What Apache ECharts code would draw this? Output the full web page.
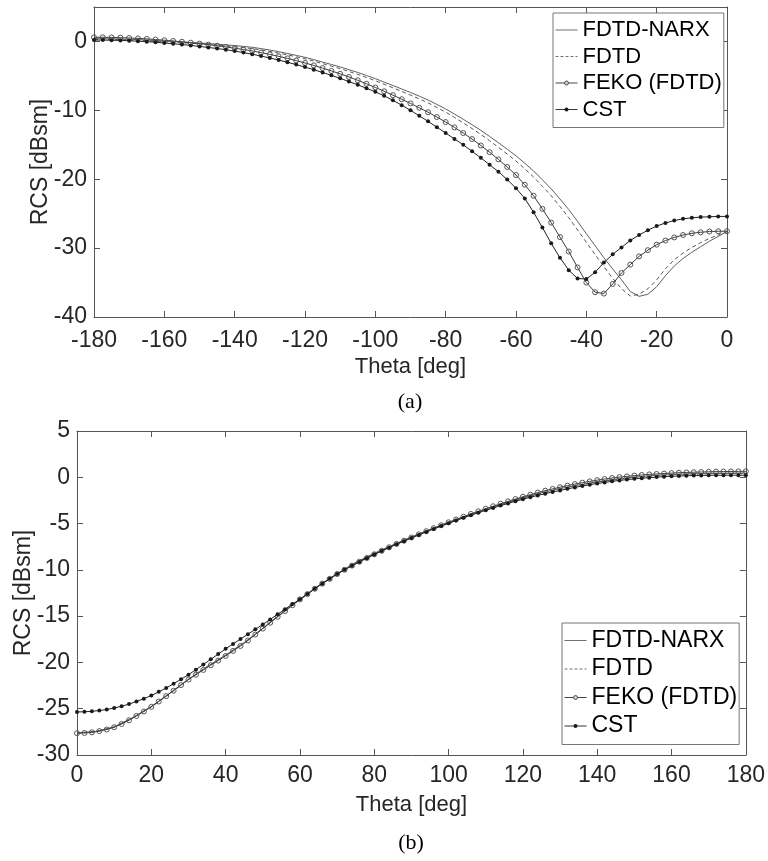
<!DOCTYPE html>
<html lang="en">
<head>
<meta charset="UTF-8">
<title>RCS</title>
<style>
body{margin:0;padding:0;background:#fff;}
#main{width:768px;height:861px;}
</style>
</head>
<body>
<div id="main"></div>
<script src="https://cdn.jsdelivr.net/npm/echarts@6/dist/echarts.min.js"></script>
<script>
// ---- (a) theta -180..0 ----
var thetaA = [-180,-177.5,-175,-172.5,-170,-167.5,-165,-162.5,-160,-157.5,-155,-152.5,-150,-147.5,-145,-142.5,-140,-137.5,-135,-132.5,
	-130,-127.5,-125,-122.5,-120,-117.5,-115,-112.5,-110,-107.5,-105,-102.5,-100,-97.5,-95,-92.5,-90,-87.5,-85,-82.5,
	-80,-77.5,-75,-72.5,-70,-67.5,-65,-62.5,-60,-57.5,-55,-52.5,-50,-47.5,-45,-42.5,-40,-37.5,-35,-32.5,
	-30,-27.5,-25,-22.5,-20,-17.5,-15,-12.5,-10,-7.5,-5,-2.5,0];
var narxA = [0.40,0.40,0.38,0.35,0.31,0.26,0.20,0.13,0.06,-0.02,
	-0.10,-0.16,-0.22,-0.30,-0.40,-0.50,-0.60,-0.72,-0.85,-1.04,
	-1.25,-1.49,-1.75,-2.02,-2.30,-2.64,-3.00,-3.34,-3.70,-4.10,
	-4.50,-4.94,-5.40,-5.90,-6.40,-6.90,-7.40,-7.94,-8.50,-9.14,
	-9.80,-10.54,-11.30,-12.09,-12.90,-13.79,-14.70,-15.64,-16.60,-17.68,
	-18.80,-20.08,-21.40,-22.87,-24.40,-26.12,-27.90,-29.66,-31.40,-33.03,
	-34.60,-36.30,-37.00,-36.70,-35.60,-34.00,-32.60,-31.50,-30.60,-29.80,
	-29.00,-28.30,-27.60];
var fdtdA = [0.30,0.30,0.28,0.25,0.21,0.16,0.10,0.03,-0.04,-0.12,
	-0.20,-0.27,-0.35,-0.44,-0.54,-0.65,-0.77,-0.90,-1.04,-1.24,
	-1.45,-1.69,-1.95,-2.23,-2.52,-2.86,-3.22,-3.58,-3.95,-4.36,
	-4.78,-5.23,-5.70,-6.21,-6.73,-7.25,-7.78,-8.34,-8.92,-9.58,
	-10.26,-11.03,-11.82,-12.65,-13.50,-14.42,-15.37,-16.35,-17.36,-18.50,
	-19.68,-21.02,-22.40,-23.95,-25.58,-27.35,-29.15,-30.95,-32.70,-34.40,
	-35.90,-36.95,-36.70,-35.90,-34.60,-33.00,-31.70,-30.70,-29.90,-29.20,
	-28.60,-28.10,-27.60];
var fekoA = [0.60,0.60,0.58,0.55,0.50,0.44,0.37,0.28,0.18,0.07,
	-0.05,-0.18,-0.32,-0.47,-0.63,-0.80,-0.98,-1.17,-1.38,-1.62,
	-1.88,-2.16,-2.46,-2.78,-3.12,-3.48,-3.87,-4.28,-4.70,-5.16,
	-5.64,-6.15,-6.68,-7.23,-7.80,-8.39,-9.00,-9.63,-10.28,-10.97,
	-11.70,-12.48,-13.30,-14.17,-15.10,-16.08,-17.12,-18.22,-19.40,-20.80,
	-22.40,-24.30,-26.30,-28.40,-30.50,-32.80,-35.00,-36.40,-36.60,-35.20,
	-33.60,-32.40,-31.20,-30.30,-29.50,-28.90,-28.45,-28.10,-27.85,-27.70,
	-27.60,-27.55,-27.55];
var cstA = [0.20,0.20,0.18,0.15,0.10,0.04,-0.03,-0.12,-0.22,-0.33,
	-0.45,-0.58,-0.72,-0.87,-1.03,-1.20,-1.40,-1.62,-1.86,-2.12,
	-2.40,-2.70,-3.02,-3.36,-3.72,-4.10,-4.50,-4.92,-5.36,-5.82,
	-6.30,-6.80,-7.32,-7.90,-8.55,-9.25,-10.00,-10.80,-11.60,-12.45,
	-13.30,-14.15,-15.00,-15.95,-16.90,-17.90,-18.90,-20.05,-21.30,-22.80,
	-24.80,-27.00,-29.30,-31.40,-33.20,-34.40,-34.50,-33.50,-32.10,-30.90,
	-29.90,-28.90,-28.10,-27.40,-26.80,-26.35,-26.00,-25.75,-25.60,-25.50,
	-25.45,-25.40,-25.40];

// ---- (b) theta 0..180 ----
var thetaB = [0,5,10,15,20,25,30,35,40,45,50,55,60,65,70,75,80,85,90,95,100,105,110,115,120,125,130,135,140,145,150,155,160,165,170,175,180];
var narxB = [-27.6,-27.45,-26.95,-25.95,-24.75,-23.3,-21.8,-20.45,-19.2,-17.85,-16.3,-14.7,-13.15,-11.7,-10.4,-9.2,-8.2,-7.3,-6.45,
	-5.65,-4.9,-4.15,-3.45,-2.8,-2.2,-1.68,-1.22,-0.82,-0.48,-0.2,0.02,0.18,0.3,0.38,0.43,0.45,0.46];
var fdtdB = [-27.65,-27.5,-27.0,-26.0,-24.8,-23.35,-21.85,-20.5,-19.25,-17.9,-16.35,-14.75,-13.2,-11.75,-10.45,-9.25,-8.25,-7.35,-6.5,
	-5.7,-4.95,-4.2,-3.5,-2.85,-2.25,-1.72,-1.26,-0.86,-0.52,-0.24,-0.02,0.14,0.26,0.34,0.39,0.41,0.42];
var thetaBm = [0,2,4,6,8,10,12,14,16,18,20,22,24,26,28,30,32,34,36,38,40,42,44,46,48,50,52,54,56,58,
	60,62,64,66,68,70,72,74,76,78,80,82,84,86,88,90,92,94,96,98,100,102,104,106,108,110,112,114,116,118,
	120,122,124,126,128,130,132,134,136,138,140,142,144,146,148,150,152,154,156,158,160,162,164,166,168,170,172,174,176,178,180];
var fekoB = [-27.65,-27.62,-27.55,-27.42,-27.25,-27.0,-26.65,-26.25,-25.78,-25.3,
	-24.8,-24.22,-23.64,-23.05,-22.45,-21.85,-21.33,-20.81,-20.3,-19.8,
	-19.3,-18.76,-18.22,-17.63,-16.99,-16.35,-15.71,-15.07,-14.44,-13.82,
	-13.2,-12.62,-12.04,-11.49,-10.97,-10.45,-9.99,-9.54,-9.12,-8.72,
	-8.32,-7.94,-7.56,-7.2,-6.85,-6.5,-6.16,-5.82,-5.5,-5.18,
	-4.86,-4.56,-4.26,-3.96,-3.68,-3.4,-3.13,-2.86,-2.6,-2.35,
	-2.1,-1.88,-1.66,-1.45,-1.26,-1.07,-0.9,-0.73,-0.58,-0.44,
	-0.31,-0.19,-0.08,0.02,0.1,0.18,0.25,0.31,0.36,0.41,
	0.45,0.49,0.52,0.55,0.57,0.59,0.61,0.62,0.63,0.64,0.64];
var cstB = [-25.35,-25.33,-25.28,-25.2,-25.08,-24.93,-24.73,-24.5,-24.22,-23.92,
	-23.58,-23.18,-22.76,-22.3,-21.82,-21.32,-20.78,-20.23,-19.67,-19.1,
	-18.53,-18.0,-17.48,-16.95,-16.42,-15.9,-15.35,-14.8,-14.25,-13.7,
	-13.17,-12.6,-12.03,-11.49,-10.97,-10.46,-10.0,-9.56,-9.14,-8.74,
	-8.35,-7.97,-7.6,-7.24,-6.9,-6.56,-6.23,-5.9,-5.58,-5.27,
	-4.96,-4.67,-4.38,-4.1,-3.83,-3.57,-3.31,-3.06,-2.82,-2.59,
	-2.37,-2.16,-1.96,-1.77,-1.59,-1.42,-1.25,-1.09,-0.94,-0.8,
	-0.67,-0.55,-0.44,-0.34,-0.25,-0.17,-0.1,-0.04,0.02,0.07,
	0.11,0.14,0.17,0.19,0.2,0.21,0.22,0.22,0.23,0.23,0.23];

var seriesNames = ['FDTD-NARX','FDTD','FEKO (FDTD)','CST'];

var FONT = '"Liberation Sans", Arial, sans-serif';
var axisColor = '#555';
var labelColor = '#262626';

function pairs(xs, ys){
	return xs.map(function(x, i){ return [x, ys[i]]; });
}

function xAxes(grid, min, max, labelMargin){
	return [{
		type:'value', gridIndex:grid, min:min, max:max, interval:20,
		name:'Theta [deg]', nameLocation:'middle', nameGap:39, nameMoveOverlap:false,
		nameTextStyle:{fontSize:22, color:labelColor, fontFamily:FONT},
		axisLine:{show:true, onZero:false, lineStyle:{color:axisColor}},
		axisTick:{inside:true, length:6, lineStyle:{color:axisColor}},
		axisLabel:{fontSize:23, color:labelColor, fontFamily:FONT, margin:labelMargin},
		splitLine:{show:false}
	},{
		type:'value', gridIndex:grid, position:'top', min:min, max:max, interval:20,
		axisLine:{show:true, onZero:false, lineStyle:{color:axisColor}},
		axisTick:{inside:true, length:6, lineStyle:{color:axisColor}},
		axisLabel:{show:false}, splitLine:{show:false}
	}];
}

function yAxes(grid, min, max, interval, showMax){
	return [{
		type:'value', gridIndex:grid, min:min, max:max, interval:interval,
		name:'RCS [dBsm]', nameLocation:'middle', nameGap:42, nameMoveOverlap:false,
		nameTextStyle:{fontSize:23, color:labelColor, fontFamily:FONT},
		axisLine:{show:true, onZero:false, lineStyle:{color:axisColor}},
		axisTick:{inside:true, length:6, lineStyle:{color:axisColor}},
		axisLabel:{fontSize:23, color:labelColor, fontFamily:FONT, margin:7, showMaxLabel:showMax},
		splitLine:{show:false}
	},{
		type:'value', gridIndex:grid, position:'right', min:min, max:max, interval:interval,
		axisLine:{show:true, onZero:false, lineStyle:{color:axisColor}},
		axisTick:{inside:true, length:6, lineStyle:{color:axisColor}},
		axisLabel:{show:false}, splitLine:{show:false}
	}];
}

function makeSeries(xi, yi, narx, fdtd, feko, cst){
	return [{
		name:seriesNames[0], type:'line', xAxisIndex:xi, yAxisIndex:yi, data:narx,
		symbol:'none', lineStyle:{color:'#606060', width:1}, itemStyle:{color:'#606060'}, z:2
	},{
		name:seriesNames[1], type:'line', xAxisIndex:xi, yAxisIndex:yi, data:fdtd,
		symbol:'none', lineStyle:{color:'#555', width:1, type:[4,3]}, itemStyle:{color:'#555'}, z:2
	},{
		name:seriesNames[2], type:'line', xAxisIndex:xi, yAxisIndex:yi, data:feko,
		symbol:'circle', symbolSize:5, lineStyle:{color:'#3a3a3a', width:1},
		itemStyle:{color:'rgba(255,255,255,0)', borderColor:'#555', borderWidth:1}, z:3
	},{
		name:seriesNames[3], type:'line', xAxisIndex:xi, yAxisIndex:yi, data:cst,
		symbol:'circle', symbolSize:4, lineStyle:{color:'#222', width:1},
		itemStyle:{color:'#1a1a1a'}, z:4
	}];
}

function legendData(){
	return [
		{name:seriesNames[0], itemStyle:{opacity:0}, lineStyle:{width:1, color:'#707070'}},
		{name:seriesNames[1], itemStyle:{opacity:0}, lineStyle:{width:1, color:'#707070', type:[3,2]}},
		{name:seriesNames[2], itemStyle:{color:'#ccc', borderColor:'#555', borderWidth:1}, lineStyle:{width:1, color:'#444'}},
		{name:seriesNames[3], itemStyle:{color:'#1a1a1a', borderWidth:0}, lineStyle:{width:1, color:'#333'}}
	];
}

function legendBox(left, top, size, gap){
	return {
		orient:'vertical', left:left, top:top, padding:[6,2,7,2], itemGap:gap,
		itemWidth:22, itemHeight:5, backgroundColor:'#fff', borderColor:'#777', borderWidth:1,
		selectedMode:false, textStyle:{fontSize:size, color:'#000', fontFamily:FONT, lineHeight:size},
		data:legendData()
	};
}

var myChart = echarts.init(document.getElementById('main'));

var option = {
	backgroundColor:'#fff',
	animation:false,
	grid:[
		{left:94, top:7, width:633, height:310},
		{left:77, top:431, width:669, height:324}
	],
	xAxis: xAxes(0, -180, 0, 12).concat(xAxes(1, 0, 180, 9)),
	yAxis: yAxes(0, -40, 5, 10, false).concat(yAxes(1, -30, 5, 5, true)),
	legend:[legendBox(553, 13, 22, 4.5), legendBox(562, 623, 23, 5.5)],
	graphic:[
		{type:'text', x:410, y:402, style:{text:'(a)', fontSize:22, fontFamily:'"Liberation Serif", serif', fill:'#000', align:'center', verticalAlign:'middle'}},
		{type:'text', x:411, y:843, style:{text:'(b)', fontSize:22, fontFamily:'"Liberation Serif", serif', fill:'#000', align:'center', verticalAlign:'middle'}}
	],
	series: makeSeries(0, 0, pairs(thetaA, narxA), pairs(thetaA, fdtdA), pairs(thetaA, fekoA), pairs(thetaA, cstA))
		.concat(makeSeries(2, 2, pairs(thetaB, narxB), pairs(thetaB, fdtdB), pairs(thetaBm, fekoB), pairs(thetaBm, cstB)))
};

myChart.setOption(option);
</script>
</body>
</html>
